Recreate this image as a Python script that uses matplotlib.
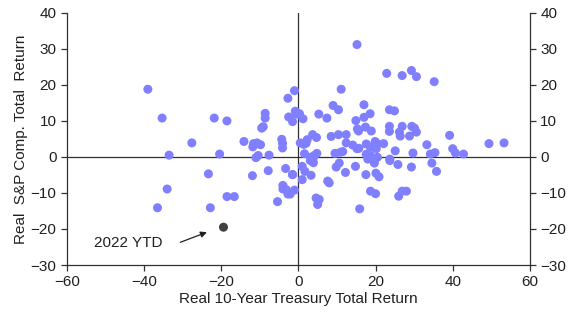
import matplotlib.pyplot as plt
import numpy as np

plt.rcParams['font.family'] = ['Liberation Sans', 'DejaVu Sans']

# real 10y treasury total return vs real S&P total return, one point per year
bond_ret = [
    -39.0, -35.3, -33.5, -27.6, -21.8, -18.5, -20.4, -14.1, -11.6, -11.8,
    -10.7, -9.8, -9.5, -9.1, -8.6, -8.6, -10.4, -11.0, -7.6, -4.3,
    -4.1, -4.1, -2.7, -1.0, -2.5, -1.5, -0.8, -0.5, 0.3, 1.2,
    0.5, -23.3, -34.0, -36.5, -22.8, -18.5, -16.6, -11.9, -7.8, -3.3,
    -1.5, -4.0, -4.0, -3.1, -2.1, -1.0, -5.4, 1.0, 1.0, 1.7,
    3.3, 15.2, 22.9, 26.9, 29.3, 30.6, 35.2, 11.1, 9.0, 10.4,
    5.3, 7.4, 17.0, 18.6, 17.0, 14.9, 15.3, 15.6, 17.4, 18.9,
    23.6, 24.9, 23.6, 23.6, 26.9, 26.2, 26.4, 29.4, 30.1, 30.6,
    28.8, 39.2, 33.3, 40.0, 40.7, 42.8, 49.4, 53.3, 35.4, 34.2,
    29.7, 25.1, 22.1, 20.4, 17.6, 19.9, 20.2, 18.7, 12.4, 10.4,
    8.5, 3.7, 4.7, 2.3, 2.0, 1.4, 12.4, 14.1, 15.2, 15.7,
    1.6, 4.8, 3.2, 4.1, 9.5, 10.9, 11.5, 17.8, 18.7, 20.5,
    23.7, 3.9, 3.1, 3.9, 7.6, 8.0, 4.6, 5.4, 5.0, 9.8,
    10.6, 12.2, 14.8, 15.9, 17.5, 20.1, 20.9, 18.7, 20.0, 17.6,
    18.0, 19.7, 23.7, 25.8, 29.3, 26.0, 26.9, 28.0, 34.6, 35.8,
    -1.5, -2.7,
]
stock_ret = [
    18.8, 10.8, 0.5, 3.9, 10.8, 10.0, 0.8, 4.3, 3.7, 2.8,
    3.9, 3.4, 8.0, 8.4, 12.1, 10.8, 0.4, -0.2, 0.5, 4.9,
    3.8, 2.5, 16.3, 18.4, 11.1, 9.8, 12.7, 11.9, 12.0, 10.6,
    3.9, -4.7, -8.9, -14.1, -14.1, -11.0, -11.0, -5.2, -3.8, -3.2,
    -4.9, -7.9, -8.9, -9.1, -10.3, -9.2, -12.4, -2.6, -6.3, -4.0,
    -5.1, 31.2, 23.2, 22.6, 24.0, 22.3, 20.9, 18.8, 14.3, 13.1,
    11.9, 10.8, 14.5, 12.0, 11.0, 10.1, 7.8, 7.2, 8.3, 7.2,
    13.1, 12.8, 8.5, 7.1, 8.5, 6.9, 5.8, 8.5, 8.0, 6.9,
    5.8, 6.0, 3.4, 2.3, 1.1, 0.8, 3.7, 3.9, 1.2, 0.8,
    1.1, 1.7, 3.7, 3.7, 3.6, 4.3, 2.3, 2.7, 6.2, 6.2,
    5.7, 6.2, 5.4, 4.8, 3.8, 3.5, 3.9, 3.3, 2.3, 2.4,
    0.9, 1.0, -0.1, 0.4, 1.0, 1.3, 1.5, 0.8, 0.4, -0.1,
    -0.6, -0.2, -1.0, -1.6, -6.7, -7.2, -11.4, -11.8, -13.2, -2.8,
    -1.7, -4.3, -2.6, -14.4, -4.9, -4.5, -5.5, -9.5, -10.2, 0.7,
    -0.6, -1.7, -1.0, -2.1, -2.8, -10.9, -9.5, -9.5, -1.7, -4.0,
    -4.9, -10.3,
]
ytd_bond, ytd_stock = -19.4, -19.5

fig = plt.figure(figsize=(5.71, 3.22), dpi=100)
ax = fig.add_axes([0.117, 0.177, 0.811, 0.783])

ax.axhline(0, color='#303030', lw=0.9, zorder=1)
ax.axvline(0, color='#303030', lw=0.9, zorder=1)

ax.scatter(bond_ret, stock_ret, s=42, color='#7f7fff', edgecolors='none', zorder=2)
ax.scatter([ytd_bond], [ytd_stock], s=42, color='#404040', edgecolors='none', zorder=3)

# label for the current year, with a pointer toward its dot
ax.text(-44, -24, '2022 YTD', ha='center', va='center', fontsize=11, color='#202020')
ax.annotate('', xy=(-23.7, -20.9), xytext=(-30.6, -23.7),
            arrowprops=dict(arrowstyle='-|>', color='#202020', lw=0.9,
                            mutation_scale=9, shrinkA=0, shrinkB=0))

ax.set_xlim(-60, 60)
ax.set_ylim(-30, 40)
ax.set_xticks(np.arange(-60, 61, 20))
ax.set_yticks(np.arange(-30, 41, 10))

ax.spines['top'].set_visible(False)
for s in ['left', 'right', 'bottom']:
    ax.spines[s].set_color('#303030')
    ax.spines[s].set_linewidth(0.9)
ax.tick_params(direction='out', length=4, width=0.9, color='#303030',
               labelsize=11, labelcolor='#202020')
ax.tick_params(axis='y', right=True, labelright=True)

ax.set_xlabel('Real 10-Year Treasury Total Return', fontsize=11, color='#202020', labelpad=2)
ax.set_ylabel('Real  S&P Comp. Total  Return', fontsize=11, color='#202020', labelpad=2)

fig.savefig('out.png', dpi=100)
